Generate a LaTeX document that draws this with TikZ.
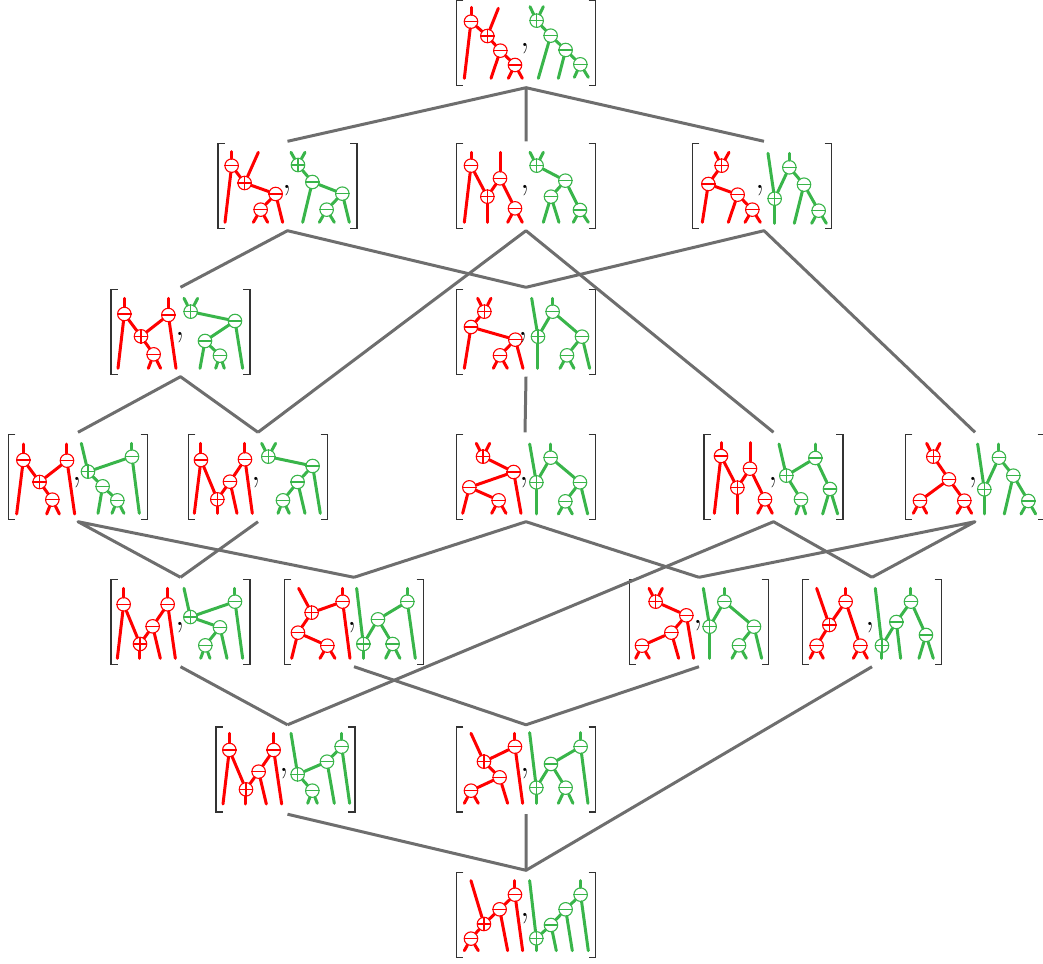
\documentclass[tikz,border=0pt]{standalone}
\usepackage{fontspec}
\definecolor{treered}{HTML}{FF0000}
\definecolor{treegreen}{HTML}{39B54A}
\definecolor{linkgray}{HTML}{6E6E6E}
\definecolor{brackgray}{HTML}{333333}
\tikzset{
  branch/.style={line width=3pt,line cap=round},
  linkline/.style={linkgray,line width=3pt,line join=round},
  bracket/.style={brackgray,line width=1.5pt},
  cellbox/.style={minimum width=139pt,minimum height=89pt,inner sep=0pt},
  treeknot/.style={circle,draw,fill=white,line width=1.1pt,inner sep=0pt,minimum size=13.5pt},
  knotbar/.style={line width=1.1pt},
  commamark/.style={inner sep=0pt,font=\fontsize{38}{38}\selectfont},
  cellzoom/.style n args={3}{name prefix=#1-,shift={(#2,#3)},x=0.3333pt,y=-0.3333pt},
}
\newcommand{\minusat}[2]{\node[treeknot] (#1) at (#2) {}; \draw[knotbar] (#1.west) -- (#1.east);}
\newcommand{\plusat}[2]{\node[treeknot] (#1) at (#2) {}; \draw[knotbar] (#1.west) -- (#1.east) (#1.north) -- (#1.south);}
\newcommand{\joinat}[2]{\draw[branch] (#1) -- (#2);}
\newcommand{\leafat}[3]{\coordinate (#1#2) at (#3); \draw[branch] (#1) -- (#1#2);}
\newcommand{\commaat}[1]{\node[commamark] (k) at (#1) {,};}
\newcommand{\redpart}[1]{\begin{scope}[color=treered]#1\end{scope}}
\newcommand{\greenpart}[1]{\begin{scope}[color=treegreen]#1\end{scope}}
\newcommand{\cellat}[2]{%
  \node[cellbox] (#1) at (#2) {};
  \draw[bracket] ([xshift=7pt,yshift=-2pt]#1.north west) -- ([yshift=-2pt]#1.north west) -- ([yshift=2pt]#1.south west) -- ([xshift=7pt,yshift=2pt]#1.south west);
  \draw[bracket] ([xshift=-7pt,yshift=-2pt]#1.north east) -- ([yshift=-2pt]#1.north east) -- ([yshift=2pt]#1.south east) -- ([xshift=-7pt,yshift=2pt]#1.south east);
}
\begin{document}
\begin{tikzpicture}[x=1pt,y=-1pt]
  \useasboundingbox (0,0) rectangle (1043,963);
  % the cells
  \cellat{top}{526,43}
  \cellat{rba}{287.5,186}
  \cellat{rbb}{526,186}
  \cellat{rbc}{762,186}
  \cellat{rca}{180.5,332}
  \cellat{rcb}{526,332}
  \cellat{rda}{78,477}
  \cellat{rdb}{258,477}
  \cellat{rdc}{526,477}
  \cellat{rdd}{773.5,477}
  \cellat{rde}{975,477}
  \cellat{rea}{180.5,622}
  \cellat{reb}{354,622}
  \cellat{rec}{699,622}
  \cellat{red}{872,622}
  \cellat{rfa}{285.5,769.5}
  \cellat{rfb}{526,769.5}
  \cellat{bot}{526,915}
  % the order relation
  \draw[linkline] (rba.north) -- (top.south) -- (rbb.north);
  \draw[linkline] (top.south) -- ([xshift=2pt]rbc.north);
  \draw[linkline] (rca.north) -- (rba.south) -- (rcb.north);
  \draw[linkline] (rdb.north) -- (rbb.south) -- (rdd.north);
  \draw[linkline] (rcb.north) -- ([xshift=2pt]rbc.south) -- (rde.north);
  \draw[linkline] (rda.north) -- (rca.south) -- (rdb.north);
  \draw[linkline] (rcb.south) -- ([xshift=-1pt]rdc.north);
  \draw[linkline] (rea.north) -- (rda.south) -- (reb.north);
  \draw[linkline] (rdb.south) -- (rea.north);
  \draw[linkline] (reb.north) -- (rdc.south) -- (rec.north);
  \draw[linkline] ([xshift=2pt]rfa.north) -- (rdd.south) -- (red.north);
  \draw[linkline] (rec.north) -- (rde.south) -- (red.north);
  \draw[linkline] (rea.south) -- ([xshift=2pt]rfa.north);
  \draw[linkline] (reb.south) -- (rfb.north) -- (rec.south);
  \draw[linkline] (red.south) -- (bot.north);
  \draw[linkline] ([xshift=2pt]rfa.south) -- (bot.north) -- (rfb.south);
  % first row
  \begin{scope}[cellzoom={top}{445}{0}]
    \redpart{\minusat{a}{78,65}\plusat{b}{127,108}\minusat{c}{166,152}\minusat{d}{210,195}
      \joinat{a}{b}\joinat{b}{c}\joinat{c}{d}
      \leafat{a}{1}{78,22}\leafat{a}{2}{58,235}\leafat{b}{1}{160,25}\leafat{c}{1}{138,235}\leafat{d}{1}{190,235}\leafat{d}{2}{232,235}}
    \commaat{240,145}
    \greenpart{\plusat{e}{275,62}\minusat{f}{317,107}\minusat{g}{362,150}\minusat{h}{406,193}
      \joinat{e}{f}\joinat{f}{g}\joinat{g}{h}
      \leafat{e}{1}{255,20}\leafat{e}{2}{295,20}\leafat{f}{1}{280,235}\leafat{g}{1}{340,235}\leafat{h}{1}{388,232}\leafat{h}{2}{430,232}}
  \end{scope}
  % second row
  \begin{scope}[cellzoom={rba}{210}{140}]
    \redpart{\minusat{a}{65,77}\plusat{b}{104,129}\minusat{c}{197,162}\minusat{d}{152,209}
      \joinat{a}{b}\joinat{b}{c}\joinat{c}{d}
      \leafat{a}{1}{65,35}\leafat{a}{2}{45,247}\leafat{b}{1}{145,37}\leafat{c}{1}{218,247}\leafat{d}{1}{130,247}\leafat{d}{2}{173,247}}
    \commaat{232,153}
    \greenpart{\plusat{e}{264,75}\minusat{f}{307,126}\minusat{g}{397,161}\minusat{h}{350,209}
      \joinat{e}{f}\joinat{f}{g}\joinat{g}{h}
      \leafat{e}{1}{243,37}\leafat{e}{2}{285,37}\leafat{f}{1}{278,247}\leafat{g}{1}{418,247}\leafat{h}{1}{328,247}\leafat{h}{2}{373,247}}
  \end{scope}
  \begin{scope}[cellzoom={rbb}{445}{140}]
    \redpart{\minusat{a}{78,77}\plusat{b}{127,170}\minusat{c}{165,115}\minusat{d}{210,205}
      \joinat{a}{b}\joinat{b}{c}\joinat{c}{d}
      \leafat{a}{1}{78,37}\leafat{a}{2}{58,247}\leafat{b}{1}{127,247}\leafat{c}{1}{165,37}\leafat{d}{1}{188,247}\leafat{d}{2}{232,247}}
    \commaat{240,153}
    \greenpart{\plusat{e}{275,77}\minusat{f}{361,122}\minusat{g}{318,170}\minusat{h}{405,210}
      \joinat{e}{f}\joinat{f}{g}\joinat{f}{h}
      \leafat{e}{1}{255,37}\leafat{e}{2}{295,37}\leafat{g}{1}{295,247}\leafat{g}{2}{342,247}\leafat{h}{1}{385,247}\leafat{h}{2}{430,247}}
  \end{scope}
  \begin{scope}[cellzoom={rbc}{685}{140}]
    \redpart{\plusat{a}{110,77}\minusat{b}{70,132}\minusat{c}{158,164}\minusat{d}{202,209}
      \joinat{a}{b}\joinat{b}{c}\joinat{c}{d}
      \leafat{a}{1}{90,37}\leafat{a}{2}{132,37}\leafat{b}{1}{52,247}\leafat{c}{1}{130,247}\leafat{d}{1}{180,247}\leafat{d}{2}{226,247}}
    \commaat{227,153}
    \greenpart{\plusat{e}{269,176}\minusat{f}{313,82}\minusat{g}{357,134}\minusat{h}{401,212}
      \joinat{e}{f}\joinat{f}{g}\joinat{g}{h}
      \leafat{e}{1}{249,40}\leafat{e}{2}{269,250}\leafat{f}{1}{313,40}\leafat{g}{1}{328,250}\leafat{h}{1}{380,250}\leafat{h}{2}{424,250}}
  \end{scope}
  % third row
  \begin{scope}[cellzoom={rca}{100}{285}]
    \redpart{\minusat{a}{73,87}\plusat{b}{123,154}\minusat{c}{205,90}\minusat{d}{161,208}
      \joinat{a}{b}\joinat{b}{c}\joinat{b}{d}
      \leafat{a}{1}{73,40}\leafat{a}{2}{54,250}\leafat{c}{1}{205,40}\leafat{c}{2}{228,250}\leafat{d}{1}{145,250}\leafat{d}{2}{182,250}}
    \commaat{240,157}
    \greenpart{\plusat{e}{272,80}\minusat{f}{405,108}\minusat{g}{315,168}\minusat{h}{360,212}
      \joinat{e}{f}\joinat{f}{g}\joinat{g}{h}
      \leafat{e}{1}{252,40}\leafat{e}{2}{293,40}\leafat{f}{1}{428,250}\leafat{g}{1}{300,250}\leafat{h}{1}{347,250}\leafat{h}{2}{373,250}}
  \end{scope}
  \begin{scope}[cellzoom={rcb}{445}{285}]
    \redpart{\plusat{a}{118,80}\minusat{b}{78,126}\minusat{c}{211,164}\minusat{d}{165,211}
      \joinat{a}{b}\joinat{b}{c}\joinat{c}{d}
      \leafat{a}{1}{98,40}\leafat{a}{2}{138,40}\leafat{b}{1}{58,250}\leafat{c}{1}{234,250}\leafat{d}{1}{145,250}\leafat{d}{2}{187,250}}
    \commaat{235,157}
    \greenpart{\plusat{e}{279,155}\minusat{f}{323,80}\minusat{g}{411,155}\minusat{h}{366,211}
      \joinat{e}{f}\joinat{f}{g}\joinat{g}{h}
      \leafat{e}{1}{260,40}\leafat{e}{2}{279,250}\leafat{f}{1}{323,40}\leafat{g}{1}{434,250}\leafat{h}{1}{345,250}\leafat{h}{2}{387,250}}
  \end{scope}
  % fourth row
  \begin{scope}[cellzoom={rda}{0}{430}]
    \redpart{\minusat{a}{70,90}\plusat{b}{119,156}\minusat{c}{201,92}\minusat{d}{157,209}
      \joinat{a}{b}\joinat{b}{c}\joinat{b}{d}
      \leafat{a}{1}{70,42}\leafat{a}{2}{50,252}\leafat{c}{1}{201,42}\leafat{c}{2}{224,252}\leafat{d}{1}{140,252}\leafat{d}{2}{178,252}}
    \commaat{232,157}
    \greenpart{\plusat{e}{264,125}\minusat{f}{396,80}\minusat{g}{308,169}\minusat{h}{352,211}
      \joinat{e}{f}\joinat{e}{g}\joinat{g}{h}
      \leafat{e}{1}{244,40}\leafat{f}{1}{396,40}\leafat{f}{2}{418,250}\leafat{g}{1}{294,250}\leafat{h}{1}{336,250}\leafat{h}{2}{372,250}}
  \end{scope}
  \begin{scope}[cellzoom={rdb}{0}{430}]
    \redpart{\minusat{a}{603,90}\plusat{b}{652,208}\minusat{c}{690,155}\minusat{d}{735,88}
      \joinat{a}{b}\joinat{b}{c}\joinat{c}{d}
      \leafat{a}{1}{603,40}\leafat{a}{2}{583,250}\leafat{b}{1}{652,250}\leafat{c}{1}{711,250}\leafat{d}{1}{735,40}\leafat{d}{2}{757,250}}
    \commaat{770,157}
    \greenpart{\plusat{e}{805,80}\minusat{f}{938,108}\minusat{g}{893,156}\minusat{h}{849,211}
      \joinat{e}{f}\joinat{f}{g}\joinat{g}{h}
      \leafat{e}{1}{785,40}\leafat{e}{2}{827,40}\leafat{f}{1}{961,250}\leafat{g}{1}{915,250}\leafat{h}{1}{834,250}\leafat{h}{2}{868,250}}
  \end{scope}
  \begin{scope}[cellzoom={rdc}{445}{430}]
    \redpart{\plusat{a}{114,80}\minusat{b}{206,126}\minusat{c}{73,172}\minusat{d}{161,211}
      \joinat{a}{b}\joinat{b}{c}\joinat{c}{d}
      \leafat{a}{1}{94,40}\leafat{a}{2}{134,40}\leafat{b}{1}{228,250}\leafat{c}{1}{53,250}\leafat{d}{1}{140,250}\leafat{d}{2}{183,250}}
    \commaat{238,157}
    \greenpart{\plusat{e}{274,157}\minusat{f}{317,83}\minusat{g}{405,157}\minusat{h}{361,214}
      \joinat{e}{f}\joinat{f}{g}\joinat{g}{h}
      \leafat{e}{1}{254,42}\leafat{e}{2}{274,252}\leafat{f}{1}{317,42}\leafat{g}{1}{428,252}\leafat{h}{1}{340,252}\leafat{h}{2}{382,252}}
  \end{scope}
  \begin{scope}[cellzoom={rdd}{695}{430}]
    \redpart{\minusat{a}{78,78}\plusat{b}{127,173}\minusat{c}{165,116}\minusat{d}{210,208}
      \joinat{a}{b}\joinat{b}{c}\joinat{c}{d}
      \leafat{a}{1}{78,38}\leafat{a}{2}{58,250}\leafat{b}{1}{127,250}\leafat{c}{1}{165,38}\leafat{d}{1}{188,250}\leafat{d}{2}{232,250}}
    \commaat{235,157}
    \greenpart{\plusat{e}{274,137}\minusat{f}{361,84}\minusat{g}{318,208}\minusat{h}{405,177}
      \joinat{e}{f}\joinat{f}{h}\joinat{e}{g}
      \leafat{e}{1}{252,42}\leafat{f}{1}{361,42}\leafat{h}{1}{383,252}\leafat{h}{2}{428,252}\leafat{g}{1}{303,252}\leafat{g}{2}{332,252}}
  \end{scope}
  \begin{scope}[cellzoom={rde}{695}{430}]
    \redpart{\plusat{a}{715,80}\minusat{b}{762,148}\minusat{c}{675,212}\minusat{d}{808,212}
      \joinat{a}{b}\joinat{b}{c}\joinat{b}{d}
      \leafat{a}{1}{695,40}\leafat{a}{2}{735,40}\leafat{c}{1}{655,250}\leafat{c}{2}{695,250}\leafat{d}{1}{786,250}\leafat{d}{2}{830,250}}
    \commaat{835,157}
    \greenpart{\plusat{e}{868,178}\minusat{f}{912,83}\minusat{g}{955,137}\minusat{h}{1000,213}
      \joinat{e}{f}\joinat{f}{g}\joinat{g}{h}
      \leafat{e}{1}{848,42}\leafat{e}{2}{868,252}\leafat{f}{1}{912,42}\leafat{g}{1}{928,252}\leafat{h}{1}{978,252}\leafat{h}{2}{1022,252}}
  \end{scope}
  % fifth row
  \begin{scope}[cellzoom={rea}{100}{575}]
    \redpart{\minusat{a}{71,88}\plusat{b}{120,207}\minusat{c}{158,154}\minusat{d}{203,88}
      \joinat{a}{b}\joinat{b}{c}\joinat{c}{d}
      \leafat{a}{1}{71,40}\leafat{a}{2}{52,250}\leafat{b}{1}{120,250}\leafat{c}{1}{181,250}\leafat{d}{1}{203,40}\leafat{d}{2}{226,250}}
    \commaat{240,157}
    \greenpart{\plusat{e}{271,126}\minusat{f}{405,80}\minusat{g}{360,157}\minusat{h}{316,211}
      \joinat{e}{f}\joinat{e}{g}\joinat{g}{h}
      \leafat{e}{1}{252,40}\leafat{f}{1}{405,40}\leafat{f}{2}{428,250}\leafat{g}{1}{381,250}\leafat{h}{1}{302,250}\leafat{h}{2}{330,250}}
  \end{scope}
  \begin{scope}[cellzoom={reb}{100}{575}]
    \redpart{\plusat{a}{635,113}\minusat{b}{728,80}\minusat{c}{594,173}\minusat{d}{682,212}
      \joinat{a}{b}\joinat{a}{c}\joinat{c}{d}
      \leafat{a}{1}{596,40}\leafat{b}{1}{728,40}\leafat{b}{2}{750,250}\leafat{c}{1}{575,250}\leafat{d}{1}{660,250}\leafat{d}{2}{705,250}}
    \commaat{758,157}
    \greenpart{\plusat{e}{790,207}\minusat{f}{834,133}\minusat{g}{922,80}\minusat{h}{878,207}
      \joinat{e}{f}\joinat{f}{g}\joinat{f}{h}
      \leafat{e}{1}{770,40}\leafat{e}{2}{790,250}\leafat{g}{1}{922,40}\leafat{g}{2}{946,250}\leafat{h}{1}{857,250}\leafat{h}{2}{900,250}}
  \end{scope}
  \begin{scope}[cellzoom={rec}{620}{575}]
    \redpart{\plusat{a}{107,80}\minusat{b}{199,121}\minusat{c}{154,173}\minusat{d}{66,212}
      \joinat{a}{b}\joinat{b}{c}\joinat{c}{d}
      \leafat{a}{1}{87,40}\leafat{a}{2}{127,40}\leafat{b}{1}{221,250}\leafat{c}{1}{176,250}\leafat{d}{1}{47,250}\leafat{d}{2}{88,250}}
    \commaat{235,153}
    \greenpart{\plusat{e}{269,155}\minusat{f}{313,80}\minusat{g}{402,155}\minusat{h}{357,211}
      \joinat{e}{f}\joinat{f}{g}\joinat{g}{h}
      \leafat{e}{1}{250,40}\leafat{e}{2}{269,250}\leafat{f}{1}{313,40}\leafat{g}{1}{425,250}\leafat{h}{1}{336,250}\leafat{h}{2}{379,250}}
  \end{scope}
  \begin{scope}[cellzoom={red}{620}{575}]
    \redpart{\plusat{a}{628,150}\minusat{b}{677,80}\minusat{c}{590,212}\minusat{d}{721,212}
      \joinat{a}{b}\joinat{a}{c}\joinat{b}{d}
      \leafat{a}{1}{590,40}\leafat{b}{1}{677,40}\leafat{c}{1}{570,250}\leafat{c}{2}{610,250}\leafat{d}{1}{700,250}\leafat{d}{2}{742,250}}
    \commaat{752,157}
    \greenpart{\plusat{e}{786,212}\minusat{f}{829,141}\minusat{g}{873,80}\minusat{h}{918,180}
      \joinat{e}{f}\joinat{f}{g}\joinat{g}{h}
      \leafat{e}{1}{766,40}\leafat{e}{2}{786,250}\leafat{f}{1}{842,250}\leafat{g}{1}{873,40}\leafat{h}{1}{897,250}\leafat{h}{2}{940,250}}
  \end{scope}
  % sixth row
  \begin{scope}[cellzoom={rfa}{205}{720}]
    \redpart{\minusat{a}{73,90}\plusat{b}{123,208}\minusat{c}{161,155}\minusat{d}{206,90}
      \joinat{a}{b}\joinat{b}{c}\joinat{c}{d}
      \leafat{a}{1}{73,40}\leafat{a}{2}{54,252}\leafat{b}{1}{123,252}\leafat{c}{1}{184,252}\leafat{d}{1}{206,40}\leafat{d}{2}{230,252}}
    \commaat{238,160}
    \greenpart{\plusat{e}{278,163}\minusat{f}{366,125}\minusat{g}{410,80}\minusat{h}{322,212}
      \joinat{e}{f}\joinat{f}{g}\joinat{e}{h}
      \leafat{e}{1}{258,40}\leafat{f}{1}{388,250}\leafat{g}{1}{410,40}\leafat{g}{2}{434,250}\leafat{h}{1}{308,250}\leafat{h}{2}{337,250}}
  \end{scope}
  \begin{scope}[cellzoom={rfb}{205}{720}]
    \redpart{\plusat{a}{837,125}\minusat{b}{930,80}\minusat{c}{884,172}\minusat{d}{798,212}
      \joinat{a}{b}\joinat{a}{c}\joinat{c}{d}
      \leafat{a}{1}{798,40}\leafat{b}{1}{930,40}\leafat{b}{2}{953,250}\leafat{c}{1}{908,250}\leafat{d}{1}{778,250}\leafat{d}{2}{820,250}}
    \commaat{960,160}
    \greenpart{\plusat{e}{994,203}\minusat{f}{1038,132}\minusat{g}{1127,80}\minusat{h}{1082,203}
      \joinat{e}{f}\joinat{f}{g}\joinat{f}{h}
      \leafat{e}{1}{974,38}\leafat{e}{2}{994,250}\leafat{g}{1}{1127,38}\leafat{g}{2}{1149,250}\leafat{h}{1}{1060,250}\leafat{h}{2}{1104,250}}
  \end{scope}
  % last row
  \begin{scope}[cellzoom={bot}{205}{720}]
    \redpart{\plusat{a}{837,612}\minusat{b}{884,568}\minusat{c}{930,524}\minusat{d}{798,656}
      \joinat{a}{b}\joinat{b}{c}\joinat{a}{d}
      \leafat{a}{1}{798,482}\leafat{b}{1}{908,692}\leafat{c}{1}{930,482}\leafat{c}{2}{953,692}\leafat{d}{1}{778,692}\leafat{d}{2}{820,692}}
    \commaat{960,596}
    \greenpart{\plusat{e}{994,655}\minusat{f}{1038,615}\minusat{g}{1082,568}\minusat{h}{1127,524}
      \joinat{e}{f}\joinat{f}{g}\joinat{g}{h}
      \leafat{e}{1}{974,482}\leafat{e}{2}{994,692}\leafat{f}{1}{1054,692}\leafat{g}{1}{1102,692}\leafat{h}{1}{1127,482}\leafat{h}{2}{1150,692}}
  \end{scope}
\end{tikzpicture}
\end{document}
